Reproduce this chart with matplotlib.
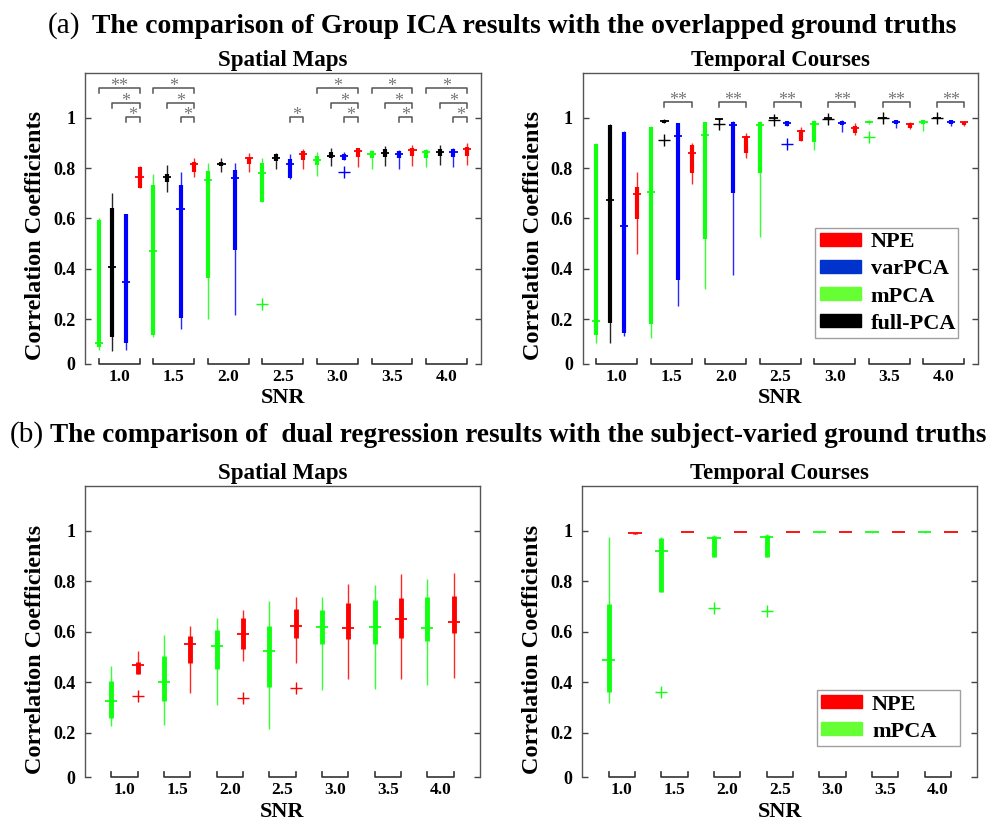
import matplotlib
matplotlib.use("Agg")
import matplotlib.pyplot as plt
from matplotlib.patches import Patch
import matplotlib.transforms as mtransforms

plt.rcParams['font.family'] = ['Liberation Serif', 'DejaVu Serif']
plt.rcParams['font.weight'] = 'bold'

snr_labels = ['1.0', '1.5', '2.0', '2.5', '3.0', '3.5', '4.0']

# box stats per SNR: (lower whisker, q1, median, q3, upper whisker)
# (a) Group ICA, spatial maps
sm_mpca = [(0.078, 0.09, 0.107, 0.594, 0.60), (0.128, 0.138, 0.472, 0.733, 0.775),
           (0.20, 0.362, 0.753, 0.788, 0.819), (0.667, 0.667, 0.782, 0.819, 0.841),
           (0.769, 0.81, 0.832, 0.849, 0.865), (0.796, 0.839, 0.854, 0.868, 0.872),
           (0.802, 0.841, 0.865, 0.872, 0.874)]
sm_full = [(0.075, 0.128, 0.409, 0.643, 0.702), (0.704, 0.746, 0.763, 0.775, 0.813),
           (0.784, 0.806, 0.816, 0.825, 0.841), (0.796, 0.828, 0.839, 0.854, 0.858),
           (0.806, 0.839, 0.849, 0.865, 0.878), (0.808, 0.845, 0.861, 0.874, 0.888),
           (0.81, 0.848, 0.865, 0.876, 0.892)]
sm_var = [(0.078, 0.107, 0.349, 0.616, 0.616), (0.16, 0.204, 0.638, 0.734, 0.783),
          (0.217, 0.475, 0.762, 0.792, 0.819), (0.757, 0.759, 0.816, 0.836, 0.854),
          (0.832, 0.832, 0.849, 0.854, 0.865), (0.796, 0.839, 0.854, 0.868, 0.872),
          (0.802, 0.843, 0.865, 0.876, 0.878)]
sm_npe = [(0.72, 0.72, 0.766, 0.803, 0.808), (0.763, 0.786, 0.815, 0.825, 0.839),
          (0.783, 0.815, 0.841, 0.845, 0.861), (0.796, 0.832, 0.854, 0.869, 0.874),
          (0.803, 0.843, 0.869, 0.878, 0.881), (0.808, 0.848, 0.872, 0.881, 0.892),
          (0.812, 0.849, 0.874, 0.882, 0.898)]
sm_mpca_out = {3: [0.259]}
sm_var_out = {4: [0.784]}

# (a) Group ICA, temporal courses
tc_mpca = [(0.107, 0.138, 0.194, 0.894, 0.898), (0.124, 0.181, 0.706, 0.964, 0.967),
           (0.319, 0.519, 0.931, 0.981, 0.984), (0.528, 0.779, 0.971, 0.984, 0.988),
           (0.872, 0.905, 0.974, 0.987, 0.991), (0.975, 0.977, 0.984, 0.988, 0.99),
           (0.948, 0.975, 0.984, 0.991, 0.991)]
tc_full = [(0.107, 0.184, 0.673, 0.971, 0.974), (0.98, 0.98, 0.987, 0.991, 0.993),
           (0.985, 0.99, 0.993, 0.995, 0.998), (0.996, 0.997, 0.998, 0.999, 1.0),
           (0.996, 0.997, 0.998, 0.999, 1.0), (0.997, 0.998, 0.999, 1.0, 1.0),
           (0.997, 0.998, 0.999, 1.0, 1.0)]
tc_var = [(0.134, 0.144, 0.571, 0.944, 0.947), (0.254, 0.356, 0.925, 0.978, 0.98),
          (0.376, 0.702, 0.971, 0.984, 0.987), (0.967, 0.967, 0.98, 0.988, 0.988),
          (0.944, 0.971, 0.98, 0.988, 0.991), (0.958, 0.975, 0.984, 0.991, 0.991),
          (0.968, 0.975, 0.984, 0.991, 0.991)]
tc_npe = [(0.458, 0.597, 0.696, 0.724, 0.786), (0.735, 0.782, 0.861, 0.892, 0.901),
          (0.841, 0.861, 0.922, 0.927, 0.938), (0.907, 0.907, 0.947, 0.951, 0.964),
          (0.931, 0.938, 0.96, 0.967, 0.978), (0.955, 0.96, 0.974, 0.978, 0.984),
          (0.965, 0.97, 0.981, 0.984, 0.986)]
tc_mpca_out = {5: [0.922]}
tc_full_out = {1: [0.911], 2: [0.974], 3: [0.991], 4: [0.993], 5: [0.997], 6: [0.997]}
tc_var_out = {3: [0.894]}

# (b) dual regression, spatial maps
dr_sm_mpca = [(0.225, 0.258, 0.326, 0.404, 0.465), (0.229, 0.326, 0.401, 0.503, 0.587),
              (0.309, 0.452, 0.544, 0.607, 0.656), (0.213, 0.381, 0.525, 0.623, 0.722),
              (0.368, 0.55, 0.617, 0.686, 0.739), (0.371, 0.55, 0.617, 0.726, 0.785),
              (0.388, 0.563, 0.613, 0.739, 0.809)]
dr_sm_npe = [(0.434, 0.434, 0.468, 0.481, 0.524), (0.358, 0.477, 0.55, 0.583, 0.623),
             (0.485, 0.531, 0.591, 0.656, 0.686), (0.477, 0.574, 0.623, 0.69, 0.736),
             (0.411, 0.571, 0.613, 0.715, 0.788), (0.411, 0.574, 0.649, 0.732, 0.828),
             (0.415, 0.593, 0.64, 0.742, 0.832)]
dr_sm_npe_out = {0: [0.344], 2: [0.339], 3: [0.375]}

# (b) dual regression, temporal courses
dr_tc_mpca = [(0.318, 0.359, 0.487, 0.71, 0.974), (0.759, 0.759, 0.921, 0.971, 0.974),
              (0.898, 0.898, 0.971, 0.98, 0.984), (0.898, 0.898, 0.974, 0.984, 0.987),
              (0.993, 0.994, 0.995, 0.996, 0.997), (0.993, 0.994, 0.995, 0.996, 0.997),
              (0.993, 0.994, 0.995, 0.996, 0.997)]
dr_tc_npe = [(0.988, 0.989, 0.99, 0.991, 0.992), (0.994, 0.995, 0.995, 0.996, 0.997),
             (0.994, 0.995, 0.995, 0.996, 0.997), (0.994, 0.995, 0.995, 0.996, 0.997),
             (0.994, 0.995, 0.995, 0.996, 0.997), (0.994, 0.995, 0.995, 0.996, 0.997),
             (0.994, 0.995, 0.995, 0.996, 0.997)]
dr_tc_mpca_out = {1: [0.359], 2: [0.695], 3: [0.682]}

# significance brackets: (group, first method index, last method index, stars)
sm_sig = [(0, 0, 3, '**'), (0, 1, 3, '*'), (0, 2, 3, '*'),
          (1, 0, 3, '*'), (1, 1, 3, '*'), (1, 2, 3, '*'),
          (3, 2, 3, '*'),
          (4, 0, 3, '*'), (4, 1, 3, '*'), (4, 2, 3, '*'),
          (5, 0, 3, '*'), (5, 1, 3, '*'), (5, 2, 3, '*'),
          (6, 0, 3, '*'), (6, 1, 3, '*'), (6, 2, 3, '*')]
sm_sig_levels = [1.117, 1.059, 1.001]
tc_sig = [(g, 1, 3, '**') for g in range(1, 7)]
tc_sig_levels = [None, 1.063]

GREEN = '#11ff11'
BLUE = '#0000ff'
RED = '#ff0000'
BLACK = '#000000'
LEG_COL = {'NPE': '#ff0000', 'varPCA': '#0033cc', 'mPCA': '#66ff33', 'full-PCA': '#000000'}

YMIN, YMAX = 0.0226, 1.178
W, H = 997, 821

fig = plt.figure(figsize=(W / 100, H / 100), dpi=100)


def make_axes(l, r, t, b):
    return fig.add_axes([l / W, 1 - b / H, (r - l) / W, (b - t) / H])


def draw_panel(ax, series, colors, outliers, med_w, box_lw):
    n = len(series)
    for k, (stats, col, outs) in enumerate(zip(series, colors, outliers)):
        for g, (lo, q1, med, q3, hi) in enumerate(stats):
            x = g * n + k + 1
            ax.vlines(x, lo, hi, color=col, lw=1.0, alpha=0.85)
            ax.vlines(x, q1, q3, color=col, lw=box_lw, capstyle='butt')
            ax.hlines(med, x - med_w / 2, x + med_w / 2, color=col, lw=1.3)
            for o in outs.get(g, []):
                ax.plot(x, o, '+', color=col, ms=8, mew=1.0)
    ax.set_xlim(0, 7 * n + 1)
    ax.set_ylim(YMIN, YMAX)
    ax.set_yticks([YMIN, 0.2, 0.4, 0.6, 0.8, 1.0])
    ax.set_yticklabels(['0', '0.2', '0.4', '0.6', '0.8', '1'])
    ax.set_xticks([])
    ax.tick_params(axis='y', direction='in', length=4, width=1, color='#444444',
                   right=True, labelsize=13, pad=7)
    for t in ax.get_yticklabels():
        t.set_fontweight('bold')
    ax.spines['bottom'].set_visible(False)
    for s in ['left', 'right', 'top']:
        ax.spines[s].set_color('#555555')
        ax.spines[s].set_linewidth(1.0)
    # group brackets under the axis
    trans = mtransforms.blended_transform_factory(ax.transData, ax.transAxes)
    for g, lab in enumerate(snr_labels):
        a = g * n + 1
        b = g * n + n
        ax.plot([a, a, b, b], [0.018, 0, 0, 0.018], color='#333333', lw=1.2,
                transform=trans, clip_on=False)
        ax.text((a + b) / 2, -0.045, lab, transform=trans, ha='center', va='center',
                fontsize=12.5, fontweight='bold')
    ax.text(0.5, -0.118, 'SNR', transform=ax.transAxes, ha='center', va='center',
            fontsize=16, fontweight='bold')
    ax.text(-0.125, 0.44, 'Correlation Coefficients', transform=ax.transAxes,
            rotation=90, ha='center', va='center', fontsize=17.5, fontweight='bold')


def draw_sig(ax, sig, levels, n):
    for g, i, j, stars in sig:
        lev = levels[i]
        a = g * n + i + 1
        b = g * n + j + 1
        ax.plot([a, a, b, b], [lev - 0.02, lev, lev, lev - 0.02], color='#555555', lw=1.1)
        ax.text((a + b) / 2, lev - 0.012, stars, ha='center', va='baseline',
                fontsize=13, fontweight='normal', color='#777777')


ax1 = make_axes(85, 480.7, 72.7, 364)
ax2 = make_axes(582.7, 978, 72.7, 364)
ax3 = make_axes(85, 480, 486, 777.3)
ax4 = make_axes(582.3, 977.3, 486, 777.3)

cols4 = [GREEN, BLACK, BLUE, RED]
draw_panel(ax1, [sm_mpca, sm_full, sm_var, sm_npe], cols4,
           [sm_mpca_out, {}, sm_var_out, {}], 0.6, 3.0)
draw_sig(ax1, sm_sig, sm_sig_levels, 4)
draw_panel(ax2, [tc_mpca, tc_full, tc_var, tc_npe], cols4,
           [tc_mpca_out, tc_full_out, tc_var_out, {}], 0.6, 3.0)
draw_sig(ax2, tc_sig, tc_sig_levels, 4)
draw_panel(ax3, [dr_sm_mpca, dr_sm_npe], [GREEN, RED], [{}, dr_sm_npe_out], 0.45, 3.5)
draw_panel(ax4, [dr_tc_mpca, dr_tc_npe], [GREEN, RED], [dr_tc_mpca_out, {}], 0.5, 3.5)

for ax in (ax1, ax3):
    ax.set_title('Spatial Maps', fontsize=16.5, fontweight='bold', pad=5)
for ax in (ax2, ax4):
    ax.set_title('Temporal Courses', fontsize=16.5, fontweight='bold', pad=5)

leg_kw = dict(fontsize=16, frameon=True, fancybox=False, edgecolor='#888888',
              handlelength=1.85, handleheight=0.53, labelspacing=0.32, borderpad=0.2,
              handletextpad=0.45, borderaxespad=0, mode='expand', loc='lower left')
names4 = ['NPE', 'varPCA', 'mPCA', 'full-PCA']
lg = ax2.legend([Patch(color=LEG_COL[nm]) for nm in names4], names4,
                bbox_to_anchor=(0.588, 0.089, 0.362, 0.2), **leg_kw)
lg.get_frame().set_linewidth(1.0)
names2 = ['NPE', 'mPCA']
lg2 = ax4.legend([Patch(color=LEG_COL[nm]) for nm in names2], names2,
                 bbox_to_anchor=(0.593, 0.107, 0.363, 0.1), **leg_kw)
lg2.get_frame().set_linewidth(1.0)

fig.text(48 / W, 1 - 33 / H, '(a)', fontsize=21, fontweight='normal', va='baseline')
fig.text(92 / W, 1 - 33 / H,
         'The comparison of Group ICA results with the overlapped ground truths',
         fontsize=20, fontweight='bold', va='baseline')
fig.text(10 / W, 1 - 442 / H, '(b)', fontsize=21, fontweight='normal', va='baseline')
fig.text(50 / W, 1 - 442 / H,
         'The comparison of  dual regression results with the subject-varied ground truths',
         fontsize=19.6, fontweight='bold', va='baseline')

fig.savefig('out.png', dpi=100)
